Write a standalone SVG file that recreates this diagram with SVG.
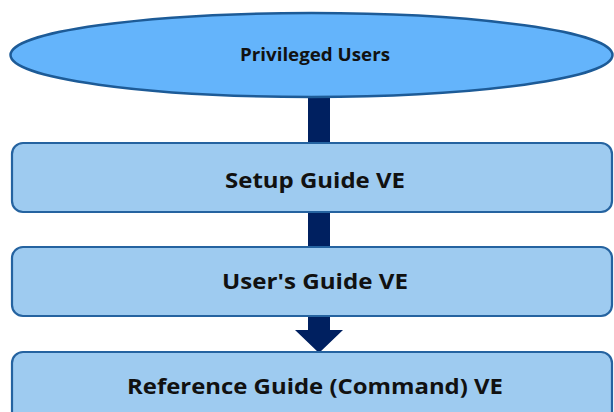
<svg xmlns="http://www.w3.org/2000/svg" width="614" height="412" viewBox="0 0 614 412">
<style>
.box{fill:#9ecbf0;stroke:#2563a0;stroke-width:2.2}
.ell{fill:#64b4fb;stroke:#1d5b97;stroke-width:2.5}
.lbl{font-family:"Open Sans","Noto Sans",sans-serif;font-weight:bold;fill:#111;text-anchor:middle;dominant-baseline:central}
.bar{fill:#002060}
</style>
<rect width="614" height="412" fill="#ffffff"/>
<g id="connectors">
<rect class="bar" x="308" y="96" width="22" height="48"/>
<rect class="bar" x="308" y="211" width="22" height="37"/>
<polygon class="bar" points="308,316 330,316 330,330 343,330 319,353 295,330 308,330"/>
</g>
<g id="privileged-users">
<ellipse class="ell" cx="311.5" cy="55" rx="301" ry="42"/>
<text class="lbl" x="315" y="54" font-size="17" textLength="150" lengthAdjust="spacingAndGlyphs">Privileged Users</text>
</g>
<g id="setup-guide">
<rect class="box" x="12" y="143" width="600" height="69" rx="11"/>
<text class="lbl" x="315" y="179" font-size="22" textLength="180" lengthAdjust="spacingAndGlyphs">Setup Guide VE</text>
</g>
<g id="users-guide">
<rect class="box" x="12" y="247" width="600" height="69" rx="11"/>
<text class="lbl" x="315" y="280" font-size="22" textLength="186" lengthAdjust="spacingAndGlyphs">User's Guide VE</text>
</g>
<g id="reference-guide">
<rect class="box" x="12" y="352" width="600" height="80" rx="11"/>
<text class="lbl" x="315" y="385" font-size="22" textLength="376" lengthAdjust="spacingAndGlyphs">Reference Guide (Command) VE</text>
</g>
</svg>
